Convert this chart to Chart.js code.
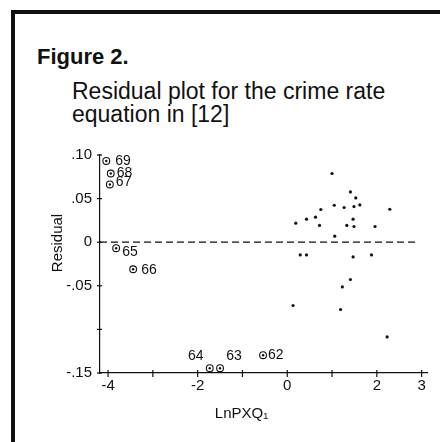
<!DOCTYPE html>
<html>
<head>
<meta charset="utf-8">
<script src="https://cdn.jsdelivr.net/npm/chart.js@4/dist/chart.umd.min.js"></script>
<style>
  html, body { margin: 0; padding: 0; background: #fff; }
  #wrap { position: relative; width: 440px; height: 442px; overflow: hidden; font-family: "Liberation Sans", Arial, sans-serif; color: #111; }
  #frame { position: absolute; left: 11px; top: 10px; width: 460px; height: 460px; border-left: 4px solid #111; border-top: 4px solid #111; }
  #fig { position: absolute; left: 37px; top: 46px; font-weight: bold; font-size: 22px; line-height: 22px; white-space: nowrap; }
  #sub { position: absolute; left: 72px; top: 80px; font-size: 23px; line-height: 23px; white-space: nowrap; }
  canvas { position: absolute; left: 0; top: 0; }
</style>
</head>
<body>
<div id="wrap">
  <div id="frame"></div>
  <div id="fig">Figure 2.</div>
  <div id="sub">Residual plot for the crime rate<br>equation in [12]</div>
  <canvas id="c" width="440" height="442"></canvas>
</div>
<script>
// Labelled observations (years 62–69)
const yearLabels = ['62', '63', '64', '65', '66', '67', '68', '69'];
const yearX = [-0.54, -1.50, -1.73, -3.82, -3.44, -3.96, -3.94, -4.04];
const yearY = [-0.1296, -0.1445, -0.1445, -0.0069, -0.031, 0.0662, 0.0788, 0.0932];

// Remaining observations
const obsX = [1.00, 1.41, 1.53, 1.62, 1.49, 1.27, 1.05, 0.75, 2.29, 0.63, 0.43, 1.47, 0.19, 0.72,
              1.33, 1.49, 1.96, 1.06, 0.29, 0.43, 1.47, 1.88, 1.41, 1.23, 0.13, 1.19, 2.23];
const obsY = [0.0788, 0.0577, 0.0508, 0.0428, 0.0409, 0.0398, 0.0424, 0.0375, 0.0378, 0.0287, 0.0264,
              0.0264, 0.0218, 0.0192, 0.0192, 0.0180, 0.0180, 0.0069, -0.0146, -0.0146, -0.0169,
              -0.0146, -0.0428, -0.0513, -0.0726, -0.0772, -0.1086];

// Zero reference line
const zeroLineX = [-4.18, 2.94];
const zeroLineY = [0, 0];

// Axis ticks
const xTickValues = [-4, -3, -2, -1, 0, 1, 2, 3];
const xTickLabels = ['-4', '', '-2', '', '0', '', '2', '3'];
const yTickValues = [0.10, 0.05, 0, -0.05, -0.10, -0.15];
const yTickLabels = ['.10', '.05', '0', '-.05', '', '-.15'];

const xTitle = 'LnPXQ\u2081';
const yTitle = 'Residual';

const INK = '#111';
const FONT = '"Liberation Sans", Arial, sans-serif';

// Where each year's number sits relative to its marker
const yearLabelPlacement = {
  '69': { dx: 9, dy: 0, align: 'left' },
  '68': { dx: 6, dy: 0, align: 'left' },
  '67': { dx: 6, dy: -2, align: 'left' },
  '65': { dx: 6, dy: 4, align: 'left' },
  '66': { dx: 8, dy: 1, align: 'left' },
  '64': { dx: -14, dy: -12, align: 'center' },
  '63': { dx: 14, dy: -12, align: 'center' },
  '62': { dx: 5, dy: 0, align: 'left' }
};

const CIRCLES = 2; // dataset index of the circled markers

const pts = (xs, ys) => xs.map((x, i) => ({ x, y: ys[i] }));

function tickText(values, labels, v) {
  const i = values.findIndex(t => Math.abs(t - v) < 1e-6);
  return i >= 0 ? labels[i] : '';
}

// Tick marks that cross the axis lines, plus the axis titles
const axisDecor = {
  id: 'axisDecor',
  afterDraw(chart) {
    const { ctx, scales: { x, y }, chartArea } = chart;
    ctx.save();
    ctx.strokeStyle = INK;
    ctx.lineWidth = 1.2;
    const ay = y.getPixelForValue(y.min);
    xTickValues.forEach(v => {
      const px = x.getPixelForValue(v);
      ctx.beginPath(); ctx.moveTo(px, ay - 3); ctx.lineTo(px, ay + 4); ctx.stroke();
    });
    const ax = x.getPixelForValue(x.min);
    yTickValues.forEach(v => {
      const py = y.getPixelForValue(v);
      ctx.beginPath(); ctx.moveTo(ax - 3, py); ctx.lineTo(ax + 2, py); ctx.stroke();
    });

    ctx.fillStyle = INK;
    ctx.font = '15px ' + FONT;
    ctx.textAlign = 'center';
    ctx.textBaseline = 'middle';
    ctx.fillText(xTitle, (chartArea.left + chartArea.right) / 2 - 22, chartArea.bottom + 41);
    ctx.translate(chartArea.left - 42, (chartArea.top + chartArea.bottom) / 2 - 21);
    ctx.rotate(-Math.PI / 2);
    ctx.fillText(yTitle, 0, 0);
    ctx.restore();
  }
};

// Year numbers beside the circled markers
const yearNumbers = {
  id: 'yearNumbers',
  afterDatasetsDraw(chart) {
    const { ctx } = chart;
    const meta = chart.getDatasetMeta(CIRCLES);
    ctx.save();
    ctx.fillStyle = INK;
    ctx.font = '14px ' + FONT;
    ctx.textBaseline = 'middle';
    meta.data.forEach((el, i) => {
      const lab = yearLabels[i];
      const p = yearLabelPlacement[lab];
      ctx.textAlign = p.align;
      ctx.fillText(lab, el.x + p.dx, el.y + p.dy);
    });
    ctx.restore();
  }
};

new Chart(document.getElementById('c'), {
  type: 'scatter',
  data: {
    datasets: [
      {
        type: 'line',
        data: pts(zeroLineX, zeroLineY),
        borderColor: INK,
        borderWidth: 1.3,
        borderDash: [7, 4],
        pointRadius: 0,
        fill: false
      },
      {
        // centre dots of the circled markers (drawn above the rings)
        data: pts(yearX, yearY),
        pointRadius: 1.2,
        borderWidth: 0,
        backgroundColor: INK
      },
      {
        data: pts(yearX, yearY),
        pointStyle: 'circle',
        pointRadius: 3.4,
        borderWidth: 1.1,
        borderColor: INK,
        backgroundColor: '#fff'
      },
      {
        data: pts(obsX, obsY),
        pointRadius: 1.6,
        borderWidth: 0,
        backgroundColor: INK
      }
    ]
  },
  options: {
    responsive: false,
    animation: false,
    events: [],
    layout: { padding: { left: 40, right: 13, top: 155, bottom: 0 } },
    plugins: { legend: { display: false }, tooltip: { enabled: false } },
    scales: {
      x: {
        type: 'linear',
        min: -4.18,
        max: 3.12,
        afterFit(s) { s.height = 69; },
        afterBuildTicks(s) { s.ticks = xTickValues.map(v => ({ value: v })); },
        ticks: {
          padding: 4,
          color: INK,
          font: { family: FONT, size: 15 },
          maxRotation: 0,
          autoSkip: false,
          callback: v => tickText(xTickValues, xTickLabels, v)
        },
        grid: { drawOnChartArea: false, drawTicks: false },
        border: { display: true, color: INK, width: 1.2 }
      },
      y: {
        type: 'linear',
        min: -0.15,
        max: 0.10,
        afterFit(s) { s.width = 60; },
        afterBuildTicks(s) { s.ticks = yTickValues.map(v => ({ value: v })); },
        ticks: {
          padding: 8,
          color: INK,
          font: { family: FONT, size: 15 },
          autoSkip: false,
          callback: v => tickText(yTickValues, yTickLabels, v)
        },
        grid: { drawOnChartArea: false, drawTicks: false },
        border: { display: true, color: INK, width: 1.2 }
      }
    }
  },
  plugins: [axisDecor, yearNumbers]
});
</script>
</body>
</html>
